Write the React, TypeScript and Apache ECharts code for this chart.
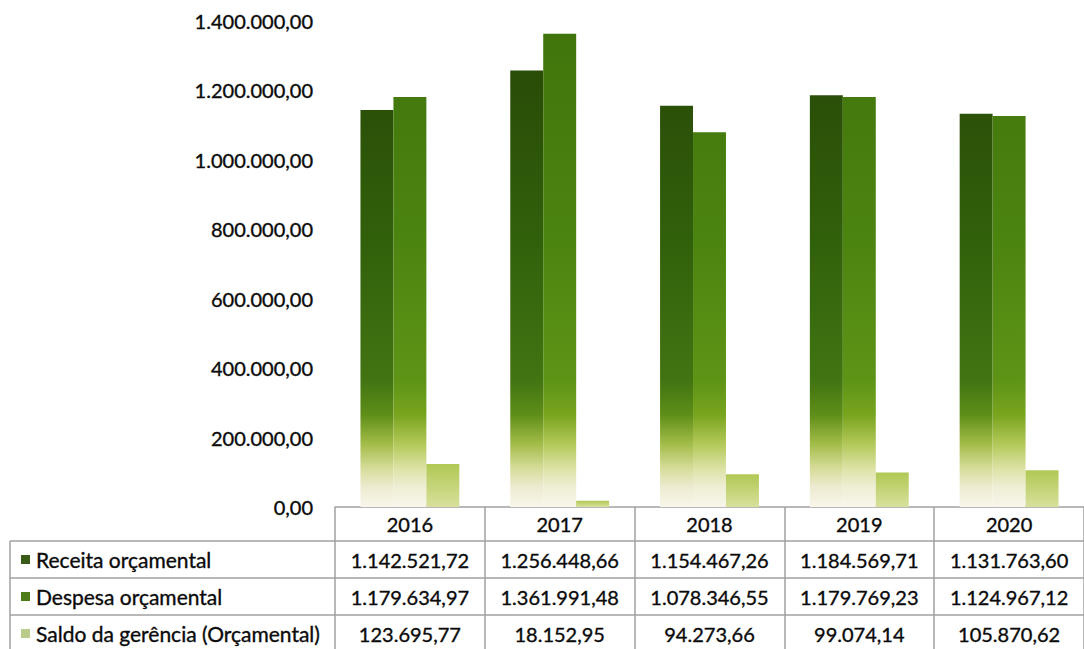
import React, { useEffect, useRef } from "react";
import * as echarts from "echarts";

const years = ["2016", "2017", "2018", "2019", "2020"];
const receita = [1142521.72, 1256448.66, 1154467.26, 1184569.71, 1131763.6];
const despesa = [1179634.97, 1361991.48, 1078346.55, 1179769.23, 1124967.12];
const saldo = [123695.77, 18152.95, 94273.66, 99074.14, 105870.62];
const seriesNames = [
  "Receita orçamental",
  "Despesa orçamental",
  "Saldo da gerência (Orçamental)",
];
const yMin = 0;
const yMax = 1400000;
const yInterval = 200000;

function fmt(v: number): string {
  const [i, d] = v.toFixed(2).split(".");
  return i.replace(/\B(?=(\d{3})+(?!\d))/g, ".") + "," + d;
}

const FONT = "Lato";
const TEXT = "#0a0a0a";
const LINE = "#a0a0a0";

export default function App() {
  const ref = useRef<HTMLDivElement>(null);
  useEffect(() => {
    if (!ref.current) return;
    const chart = echarts.init(ref.current, undefined, { renderer: "svg" });

    const gridTop = 20.5;
    const gridBottom = 142;
    const H = 649;
    const baseY = H - gridBottom;
    const rowOffsets = [0, 34, 71, 108];
    const rowHeights = [34, 37, 37, 37];

    const grad = (stops: [number, string][]) =>
      new echarts.graphic.LinearGradient(
        0,
        gridTop,
        0,
        baseY,
        stops.map(([offset, color]) => ({ offset, color })),
        true
      );

    const recColor = grad([
      [0, "#274606"],
      [0.45, "#31600b"],
      [0.74, "#427412"],
      [0.81, "#5e8e18"],
      [0.87, "#a2bc48"],
      [0.92, "#d6dc98"],
      [0.96, "#eeebd2"],
      [1, "#f8f6ea"],
    ]);
    const desColor = grad([
      [0, "#40740c"],
      [0.45, "#4c8410"],
      [0.74, "#5e9416"],
      [0.81, "#78a41e"],
      [0.87, "#b2c858"],
      [0.92, "#dce2a4"],
      [0.96, "#efeed6"],
      [1, "#f8f6ea"],
    ]);
    const salColor = new echarts.graphic.LinearGradient(0, 0, 0, 1, [
      { offset: 0, color: "#b0c854" },
      { offset: 1, color: "#d8e09c" },
    ]);

    const tableRows = [years, receita.map(fmt), despesa.map(fmt), saldo.map(fmt)];

    const textStyle = {
      fontFamily: FONT,
      fontSize: 20,
      color: TEXT,
      textBorderColor: TEXT,
      textBorderWidth: 0.35,
    };

    const xAxes = tableRows.map((row, k) => ({
      type: "category" as const,
      data: row,
      position: "bottom" as const,
      offset: rowOffsets[k],
      axisLine: { show: true, lineStyle: { color: LINE, width: 1.5 } },
      axisTick: {
        show: true,
        inside: false,
        length: rowHeights[k],
        lineStyle: { color: LINE, width: 1.5 },
      },
      axisLabel: {
        show: true,
        interval: 0,
        margin: rowHeights[k] / 2,
        verticalAlign: "middle" as const,
        ...textStyle,
      },
      splitLine: { show: false },
    }));

    const labelColors = ["#3a5a18", "#4d7c18", "#b9cc8a"];
    const graphics: any[] = [];
    const leftX = 10;
    const colX = 335;
    [1, 2, 3].forEach((k) => {
      const y = baseY + rowOffsets[k];
      graphics.push({
        type: "line",
        shape: { x1: leftX, y1: y, x2: colX, y2: y },
        style: { stroke: LINE, lineWidth: 1.5 },
      });
    });
    graphics.push({
      type: "line",
      shape: { x1: leftX, y1: baseY + rowOffsets[1], x2: leftX, y2: H + 5 },
      style: { stroke: LINE, lineWidth: 1.5 },
    });
    seriesNames.forEach((name, i) => {
      const k = i + 1;
      const cy = baseY + rowOffsets[k] + rowHeights[k] / 2;
      graphics.push({
        type: "rect",
        shape: { x: 21, y: cy - 4.5, width: 9, height: 9 },
        style: { fill: labelColors[i] },
      });
      graphics.push({
        type: "text",
        x: 36,
        y: cy,
        style: {
          text: name,
          fontFamily: FONT,
          fontSize: 21,
          fill: TEXT,
          stroke: TEXT,
          lineWidth: 0.35,
          verticalAlign: "middle",
          align: "left",
        },
      });
    });

    chart.setOption({
      animation: false,
      backgroundColor: "#ffffff",
      grid: { left: 335, right: -6, top: gridTop, bottom: gridBottom, containLabel: false },
      xAxis: xAxes,
      yAxis: {
        type: "value",
        min: yMin,
        max: yMax,
        interval: yInterval,
        axisLine: { show: false },
        axisTick: { show: false },
        splitLine: { show: false },
        axisLabel: {
          formatter: (v: number) => fmt(v),
          margin: 22,
          ...textStyle,
        },
      },
      series: [
        {
          name: seriesNames[0],
          type: "bar",
          data: receita,
          barGap: "0%",
          barCategoryGap: "34%",
          itemStyle: { color: recColor },
        },
        {
          name: seriesNames[1],
          type: "bar",
          data: despesa,
          barGap: "0%",
          barCategoryGap: "34%",
          itemStyle: { color: desColor },
        },
        {
          name: seriesNames[2],
          type: "bar",
          data: saldo,
          barGap: "0%",
          barCategoryGap: "34%",
          itemStyle: { color: salColor },
        },
      ],
      graphic: graphics,
    });

    return () => chart.dispose();
  }, []);

  return (
    <div
      ref={ref}
      style={{ position: "fixed", left: 0, top: 0, width: 1084, height: 649 }}
    />
  );
}
